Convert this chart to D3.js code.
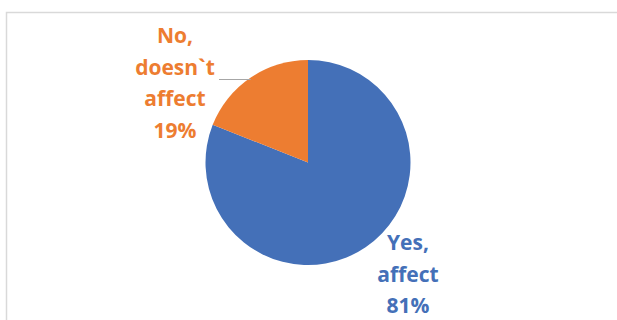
<!DOCTYPE html>
<html>
<head>
<meta charset="utf-8">
<script src="https://cdn.jsdelivr.net/npm/d3@7"></script>
<style>
  html, body { margin: 0; padding: 0; background: #fff; }
  svg { display: block; }
  .lbl { font-family: "Open Sans", Lato, sans-serif; font-weight: 700; }
</style>
</head>
<body>
<svg id="chart" width="617" height="320"></svg>
<script>
// Survey answers and their shares (percent)
const categories = ["Yes, affect", "No, doesn`t affect"];
const values = [81, 19];
const labelLines = [["Yes,", "affect", "81%"], ["No,", "doesn`t", "affect", "19%"]];
const colors = ["#4470B8", "#ED7D31"];

const W = 617, H = 320;
const svg = d3.select("#chart");

// chart area frame
svg.append("path")
  .attr("d", `M${W},12.5 H6.5 V${H}`)
  .attr("fill", "none")
  .attr("stroke", "#d9d9d9")
  .attr("stroke-width", 1.5);

const cx = 308, cy = 162.5, r = 102.5;

// slices start at 12 o'clock; the first one runs clockwise
const pie = d3.pie().sort(null).value(d => d)
  .startAngle(0).endAngle(2 * Math.PI);
const arcs = pie(values);
const arc = d3.arc().innerRadius(0).outerRadius(r);

const g = svg.append("g").attr("transform", `translate(${cx},${cy})`);
g.selectAll("path.slice")
  .data(arcs)
  .join("path")
  .attr("class", "slice")
  .attr("d", arc)
  .attr("fill", (d, i) => colors[i]);

// label placement per slice (centre x, first baseline)
const labelPos = [
  { x: 408, y: 250 },
  { x: 175, y: 43 }
];
const lineH = 31.5;

labelLines.forEach((lines, i) => {
  const t = svg.append("text")
    .attr("class", "lbl")
    .attr("text-anchor", "middle")
    .attr("fill", colors[i])
    .attr("font-size", 21);
  lines.forEach((s, k) => {
    t.append("tspan")
      .attr("x", labelPos[i].x)
      .attr("y", labelPos[i].y + k * lineH)
      .text(s);
  });
});

// leader line from the "No" label to the edge of its slice
const ly = 79.5;
const dy = cy - ly;
const xEdge = cx - Math.sqrt(r * r - dy * dy);
svg.append("line")
  .attr("x1", 219).attr("y1", ly)
  .attr("x2", xEdge + 3).attr("y2", ly)
  .attr("stroke", "#a6a6a6")
  .attr("stroke-width", 1);
</script>
</body>
</html>
